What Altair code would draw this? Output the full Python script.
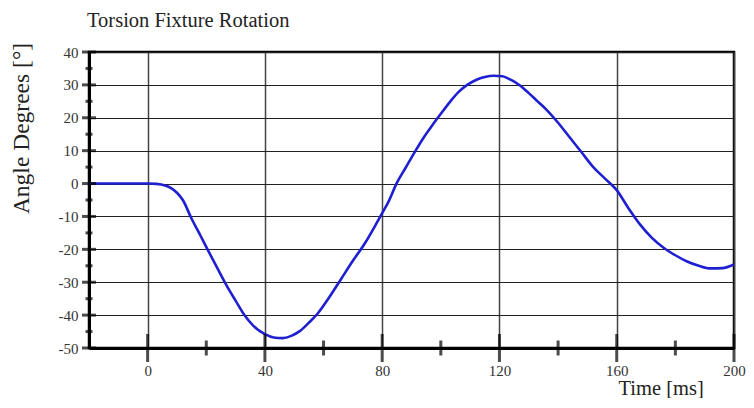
import altair as alt
import pandas as pd

# Curve readings (time ms, angle degrees)
time_ms = [-20, -10, 0, 3, 6, 8, 10, 12, 15, 18, 21, 24, 27, 30, 33, 36, 40, 43, 46, 49,
           52, 55, 58, 62, 66, 70, 74, 78, 80, 82, 85, 88, 91, 94, 97, 100, 103, 106, 109,
           112, 115, 118, 121, 124, 127, 130, 133, 136, 140, 144, 148, 152, 156, 160, 164,
           168, 172, 176, 180, 184, 188, 192, 196, 200]
angle_deg = [0, 0, 0, -0.1, -0.6, -1.4, -2.8, -5, -10.7, -15.8, -21, -26.1, -31.1, -35.6,
             -40, -43.2, -45.8, -46.8, -47, -46.3, -44.8, -42.3, -39.5, -34.5, -29, -23.5,
             -18.3, -12.2, -9, -5.8, 0.2, 4.8, 9.4, 13.8, 17.6, 21.2, 24.7, 27.8, 30, 31.5,
             32.4, 32.8, 32.6, 31.5, 29.8, 27.5, 25, 22.5, 18.5, 14, 9.5, 5, 1.5, -2, -7.5,
             -12.5, -16.5, -19.5, -21.8, -23.7, -25, -25.8, -25.7, -24.6]

x_labels = [0, 40, 80, 120, 160, 200]
x_major_ticks = [0, 40, 80, 120, 160, 200]
x_minor_ticks = [20, 60, 100, 140, 180]
y_labels = [-50, -40, -30, -20, -10, 0, 10, 20, 30, 40]
y_minor_ticks = [-45, -35, -25, -15, -5, 5, 15, 25, 35]
chart_title = ["Torsion Fixture Rotation"]

SERIF = "Liberation Serif"
LABEL_EXPR = "datum.value < 0 ? '-' + abs(datum.value) : '' + datum.value"

df = pd.DataFrame({"t": time_ms, "a": angle_deg})
xs = alt.Scale(domain=[-20, 200], nice=False, zero=False)
ys = alt.Scale(domain=[-50, 40], nice=False, zero=False)

x_axis = alt.Axis(values=x_labels, grid=True, ticks=False, tickSize=0,
                  domain=True, domainColor="black", domainWidth=3,
                  gridColor="#444444", gridWidth=1.5,
                  labelFont=SERIF, labelFontSize=15, labelColor="#333333", labelPadding=15,
                  labelFlush=False, labelOverlap=False,
                  title="Time [ms]", titleFont=SERIF, titleFontSize=20.5, titleFontWeight="normal",
                  titleColor="#222222", titleAlign="left", titleAnchor="start",
                  titleX=529, titleY=46, titleBaseline="alphabetic")
y_axis = alt.Axis(values=y_labels, grid=True, ticks=False, tickSize=0,
                  domain=True, domainColor="black", domainWidth=3,
                  gridColor="#222222", gridWidth=1.2,
                  labelFont=SERIF, labelFontSize=15, labelColor="#333333", labelPadding=11,
                  labelOverlap=False, labelExpr=LABEL_EXPR,
                  title="Angle Degrees [°]", titleFont=SERIF, titleFontSize=23.5,
                  titleFontWeight="normal", titleColor="#222222", titleAngle=270,
                  titleAlign="center", titleX=-61, titleY=76, titleBaseline="alphabetic")

line = alt.Chart(df).mark_line(color="#1f1fd2", strokeWidth=2.6, interpolate="monotone").encode(
    x=alt.X("t:Q", scale=xs, axis=x_axis),
    y=alt.Y("a:Q", scale=ys, axis=y_axis),
)

xmaj = alt.Chart(pd.DataFrame({"v": x_major_ticks})).mark_tick(
    orient="vertical", color="black", thickness=3, size=28).encode(
    x=alt.X("v:Q", scale=xs, axis=x_axis), y=alt.Y(datum=-50, scale=ys, axis=y_axis))
xmin = alt.Chart(pd.DataFrame({"v": x_minor_ticks})).mark_tick(
    orient="vertical", color="black", thickness=3, size=15).encode(
    x=alt.X("v:Q", scale=xs, axis=x_axis), y=alt.Y(datum=-50, scale=ys, axis=y_axis))
ymaj = alt.Chart(pd.DataFrame({"v": y_labels})).mark_tick(
    orient="horizontal", color="black", thickness=3, size=14).encode(
    y=alt.Y("v:Q", scale=ys, axis=y_axis), x=alt.X(datum=-20, scale=xs, axis=x_axis))
ymin = alt.Chart(pd.DataFrame({"v": y_minor_ticks})).mark_tick(
    orient="horizontal", color="black", thickness=3, size=7).encode(
    y=alt.Y("v:Q", scale=ys, axis=y_axis), x=alt.X(datum=-20, scale=xs, axis=x_axis))

title = alt.Chart(pd.DataFrame({"title": chart_title})).mark_text(
    align="left", baseline="alphabetic", font=SERIF, fontSize=20.5, color="#222222").encode(
    text="title:N", x=alt.value(-2), y=alt.value(-25))

chart = (
    alt.layer(line, xmaj, xmin, ymaj, ymin, title)
    .properties(
        width=645, height=296,
        autosize=alt.AutoSizeParams(type="none"),
        padding={"left": 81, "top": 44, "right": 12, "bottom": 50},
    )
    .configure(background="white")
    .configure_view(stroke="black", strokeWidth=2.5)
    .configure_axis(labelOverlap=False)
)

chart.save("out.html", embed_options={"renderer": "svg", "actions": False})
